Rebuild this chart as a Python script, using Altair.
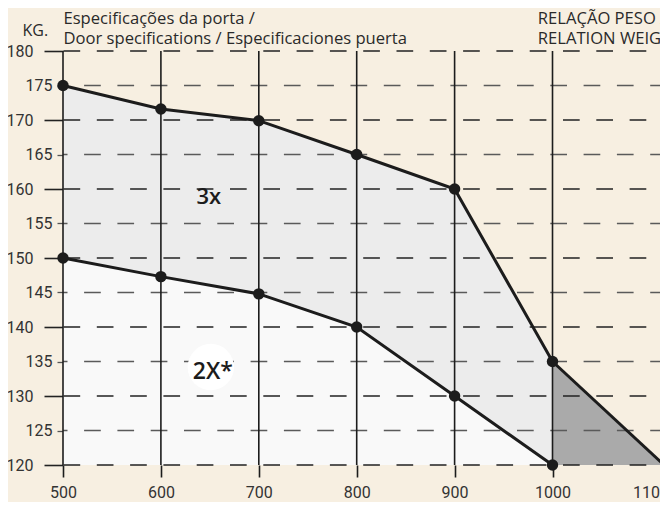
import altair as alt
import pandas as pd

# ---- data ----
widths = [500, 600, 700, 800, 900, 1000]
upper_3x = [175, 171.6, 169.9, 165, 160, 135]
lower_2x = [150, 147.3, 144.8, 140, 130, 120]
tri_x = [1000, 1114]
tri_y = [135, 120]
base_kg = 120

x_ticks = [500, 600, 700, 800, 900, 1000, 1100]
y_ticks = list(range(120, 181, 5))
y_major = [v for v in y_ticks if v % 10 == 0]
y_minor = [v for v in y_ticks if v % 10 != 0]

head_text = ["Especificações da porta /", "Door specifications / Especificaciones puerta",
             "RELAÇÃO PESO /", "RELATION WEIGHT"]
head_x = [500.5, 500.5, 985, 985]
head_y = [183.9, 181.0, 183.9, 181.0]
heads = pd.DataFrame({"x": head_x, "y": head_y, "t": head_text})
labels = pd.DataFrame({"x": [649, 653], "y": [157.8, 132.5], "t": ["3x", "2X*"]})
bubble_pos = pd.DataFrame({"x": [651], "y": [134.2]})

FONT = "Roboto"
TFONT = "Open Sans"
INK = "#1c1c1c"

df = pd.DataFrame({"w": widths, "up": upper_3x, "lo": lower_2x})
tri = pd.DataFrame({"w": tri_x, "kg": tri_y})
g_all = pd.DataFrame({"v": y_ticks})
g_major = pd.DataFrame({"v": y_major})
g_minor = pd.DataFrame({"v": y_minor})
g_vert = pd.DataFrame({"v": widths})

xs = alt.Scale(domain=[500, 1109.8], nice=False, zero=False)
ys = alt.Scale(domain=[120, 180], nice=False, zero=False)

cond10 = "datum.value % 10 === 0"
x_axis = alt.Axis(values=x_ticks, tickCount=20, title=None, domain=False, grid=False, format="d",
                  labelOverlap=False, labelFlush=False,
                  tickSize=12, tickWidth=1.6, tickColor=INK,
                  tickOpacity={"condition": {"test": "datum.value > 1050", "value": 0}, "value": 1},
                  labelFont=FONT, labelFontSize=16, labelColor="#333333", labelPadding=7)
y_axis = alt.Axis(values=y_ticks, tickCount=20, domain=False, grid=False, format="d",
                  labelOverlap=False,
                  tickSize={"condition": {"test": cond10, "value": 19}, "value": 6},
                  tickColor={"condition": {"test": cond10, "value": "#222222"}, "value": "#555555"},
                  tickWidth={"condition": {"test": cond10, "value": 1.6}, "value": 1.3},
                  labelPadding={"condition": {"test": cond10, "value": 11}, "value": 5},
                  labelFont=FONT, labelFontSize=16, labelColor="#333333",
                  title="KG.", titleAngle=0, titleAlign="left", titleBaseline="alphabetic",
                  titleX=-41, titleY=-16, titleFont=TFONT, titleFontSize=16,
                  titleFontWeight="normal", titleColor="#2a2a2a")

NX = lambda f: alt.X(f, scale=xs)
NY = lambda f: alt.Y(f, scale=ys)

# axis carrier layer (transparent rules at every 5 kg)
axis_layer = alt.Chart(g_all).mark_rule(opacity=0).encode(
    y=alt.Y("v:Q", scale=ys, axis=y_axis))

area_lo = alt.Chart(df).mark_area(color="#f9f9f9", opacity=1).encode(
    x=alt.X("w:Q", scale=xs, axis=x_axis), y=NY("lo:Q"), y2=alt.datum(base_kg))
area_up = alt.Chart(df).mark_area(color="#ececec", opacity=1).encode(
    x=NX("w:Q"), y=NY("up:Q"), y2="lo:Q")
area_tri = alt.Chart(tri).mark_area(color="#aaaaaa", opacity=1).encode(
    x=NX("w:Q"), y=NY("kg:Q"), y2=alt.datum(base_kg))

rule_major = alt.Chart(g_major).mark_rule(
    color="#222222", strokeWidth=1.6, strokeDash=[16.7, 16.6], strokeDashOffset=19.6
).encode(y=NY("v:Q"))
rule_minor = alt.Chart(g_minor).mark_rule(
    color="#5a5a5a", strokeWidth=1.3, strokeDash=[16.7, 16.6], strokeDashOffset=6.9
).encode(y=NY("v:Q"))
rule_vert = alt.Chart(g_vert).mark_rule(color=INK, strokeWidth=1.6).encode(x=NX("v:Q"))

line_up = alt.Chart(df).mark_line(color=INK, strokeWidth=3).encode(x=NX("w:Q"), y=NY("up:Q"))
line_lo = alt.Chart(df).mark_line(color=INK, strokeWidth=3).encode(x=NX("w:Q"), y=NY("lo:Q"))
line_tri = alt.Chart(tri).mark_line(color=INK, strokeWidth=3).encode(x=NX("w:Q"), y=NY("kg:Q"))

pts_up = alt.Chart(df).mark_circle(color=INK, opacity=1, size=130).encode(x=NX("w:Q"), y=NY("up:Q"))
pts_lo = alt.Chart(df).mark_circle(color=INK, opacity=1, size=130).encode(x=NX("w:Q"), y=NY("lo:Q"))

bubble = alt.Chart(bubble_pos).mark_circle(color="#ffffff", opacity=1, size=2150).encode(
    x=NX("x:Q"), y=NY("y:Q"))
txt_heads = alt.Chart(heads).mark_text(
    align="left", baseline="alphabetic", font=TFONT, fontSize=16.6, color="#2a2a2a"
).encode(x=NX("x:Q"), y=NY("y:Q"), text="t:N")
txt_3x = alt.Chart(labels.iloc[[0]]).mark_text(
    align="center", baseline="alphabetic", font=TFONT, fontSize=22, fontWeight=600, color=INK
).encode(x=NX("x:Q"), y=NY("y:Q"), text="t:N")
txt_2x = alt.Chart(labels.iloc[[1]]).mark_text(
    align="center", baseline="alphabetic", font=TFONT, fontSize=23, fontWeight=600, color=INK
).encode(x=NX("x:Q"), y=NY("y:Q"), text="t:N")

chart = alt.layer(
    axis_layer,
    area_lo, area_up, area_tri,
    rule_major, rule_minor, rule_vert,
    line_up, line_lo, line_tri, pts_up, pts_lo,
    bubble, txt_heads, txt_3x, txt_2x,
).properties(
    width=597, height=414,
    padding={"left": 55, "top": 43, "right": 0, "bottom": 37},
    autosize=alt.AutoSizeParams(type="none"),
).configure(background="#f7efe1").configure_view(stroke=None).configure_axisY(labelOverlap=False)

chart.save("out.html", embed_options={"renderer": "svg", "actions": False})
